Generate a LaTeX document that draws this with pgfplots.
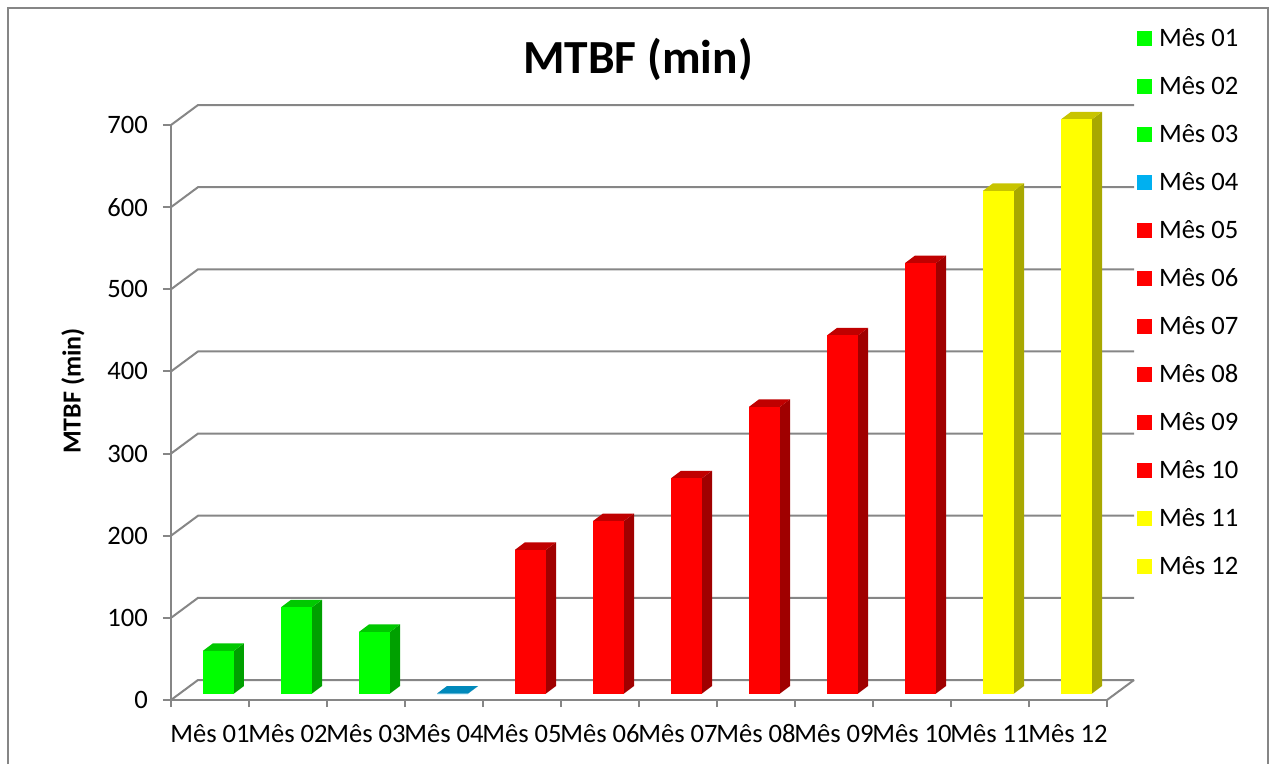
\documentclass[border=0pt]{standalone}
\usepackage{fontspec}
\setmainfont{Carlito}
\usepackage{pgfplots}
\pgfplotsset{compat=1.18}

\definecolor{gridgray}{RGB}{134,134,134}
\definecolor{gfront}{RGB}{0,255,0}
\definecolor{gtop}{RGB}{0,200,0}
\definecolor{gside}{RGB}{0,160,0}
\definecolor{bfront}{RGB}{0,176,240}
\definecolor{btop}{RGB}{0,137,187}
\definecolor{bside}{RGB}{0,112,154}
\definecolor{rfront}{RGB}{255,0,0}
\definecolor{rtop}{RGB}{192,0,0}
\definecolor{rside}{RGB}{160,0,0}
\definecolor{yfront}{RGB}{255,255,0}
\definecolor{ytop}{RGB}{200,196,0}
\definecolor{yside}{RGB}{168,168,0}

\newcommand{\lblfont}{\fontsize{26.6}{32}\selectfont}

% One 3-D column: #1 category index (0-based), #2 value, #3 colour prefix, #4 legend text.
% The column stands in the middle of the floor depth; its own depth is 10pt x 7.5pt.
\newcommand{\cuboid}[4]{%
  \pgfmathsetmacro\cL{#1+0.410256}%
  \pgfmathsetmacro\cR{#1+0.807692}%
  \pgfmathsetmacro\cLb{#1+0.538461}%
  \pgfmathsetmacro\cRb{#1+0.935897}%
  \pgfmathsetmacro\cB{7.9133}%
  \pgfmathsetmacro\cT{#2+7.9133}%
  \pgfmathsetmacro\cBb{17.0441}%
  \pgfmathsetmacro\cTb{#2+17.0441}%
  \addplot[draw=none, fill=#3side, forget plot]
    coordinates {(\cR,\cB) (\cRb,\cBb) (\cRb,\cTb) (\cR,\cT)};
  \addplot[draw=none, fill=#3top, forget plot]
    coordinates {(\cL,\cT) (\cR,\cT) (\cRb,\cTb) (\cLb,\cTb)};
  \addplot[draw=none, fill=#3front,
    legend image code/.code={\fill[#3front] (0pt,-7.5pt) rectangle (15pt,7.5pt);}]
    coordinates {(\cL,\cB) (\cR,\cB) (\cR,\cT) (\cL,\cT)};
  \addlegendentry{#4}
}

\begin{document}
\begin{tikzpicture}
\path[use as bounding box] (-171pt,-64pt) rectangle (1101pt,700pt);
\begin{axis}[
  anchor=origin, at={(0pt,0pt)},
  x=78pt, y=0.8214pt,
  xmin=0, xmax=12, ymin=0, ymax=700,
  clip=false,
  axis x line*=bottom, axis y line*=left,
  axis line style={gridgray, line width=2pt},
  tick style={gridgray, line width=2pt},
  tick align=outside,
  major tick length=8pt, minor tick length=7pt,
  xtick={0.5,1.5,...,11.5},
  xticklabels={Mês 01,Mês 02,Mês 03,Mês 04,Mês 05,Mês 06,Mês 07,Mês 08,Mês 09,Mês 10,Mês 11,Mês 12},
  major x tick style={draw=none},
  minor xtick={0,1,...,12},
  ytick={0,100,...,700},
  /pgf/number format/assume math mode=true,
  ticklabel style={font=\lblfont},
  yticklabel style={anchor=east, inner sep=0pt, xshift=-15pt},
  xticklabel style={anchor=base, inner sep=0pt, yshift=-34pt},
  ylabel={MTBF (min)},
  ylabel style={font=\bfseries\fontsize{26}{30}\selectfont, at={(axis cs:-1.2564,376.2)}, anchor=center},
  legend cell align=left,
  legend style={draw=none, fill=none, at={(axis cs:12.38462,819.94)}, anchor=north west,
    inner sep=0pt, outer sep=0pt, row sep=24pt, column sep=7pt, font=\lblfont,
    nodes={inner sep=0pt, text height=20pt, text depth=4pt}},
]
% side wall and back wall with their grid lines
\pgfplotsinvokeforeach{0,100,...,700}{
  \draw[gridgray, line width=2pt] (axis cs:0,#1) -- ++(27pt,20pt) -- ++(936pt,0pt);
}
\draw[gridgray, line width=2pt] (axis cs:12,0) -- ++(27pt,20pt);

\cuboid{0}{52}{g}{Mês 01}
\cuboid{1}{105}{g}{Mês 02}
\cuboid{2}{75}{g}{Mês 03}
\cuboid{3}{0}{b}{Mês 04}
\cuboid{4}{175}{r}{Mês 05}
\cuboid{5}{210}{r}{Mês 06}
\cuboid{6}{262}{r}{Mês 07}
\cuboid{7}{349}{r}{Mês 08}
\cuboid{8}{436}{r}{Mês 09}
\cuboid{9}{524}{r}{Mês 10}
\cuboid{10}{612}{y}{Mês 11}
\cuboid{11}{699}{y}{Mês 12}

\node[anchor=base, font=\bfseries\fontsize{47.5}{56}\selectfont] at (axis cs:5.98718,763.33) {MTBF (min)};
\end{axis}
% chart frame
\draw[gridgray, line width=2pt] (-163pt,-64pt) -- (-163pt,692pt) -- (1097pt,692pt) -- (1097pt,-64pt);
\end{tikzpicture}
\end{document}
